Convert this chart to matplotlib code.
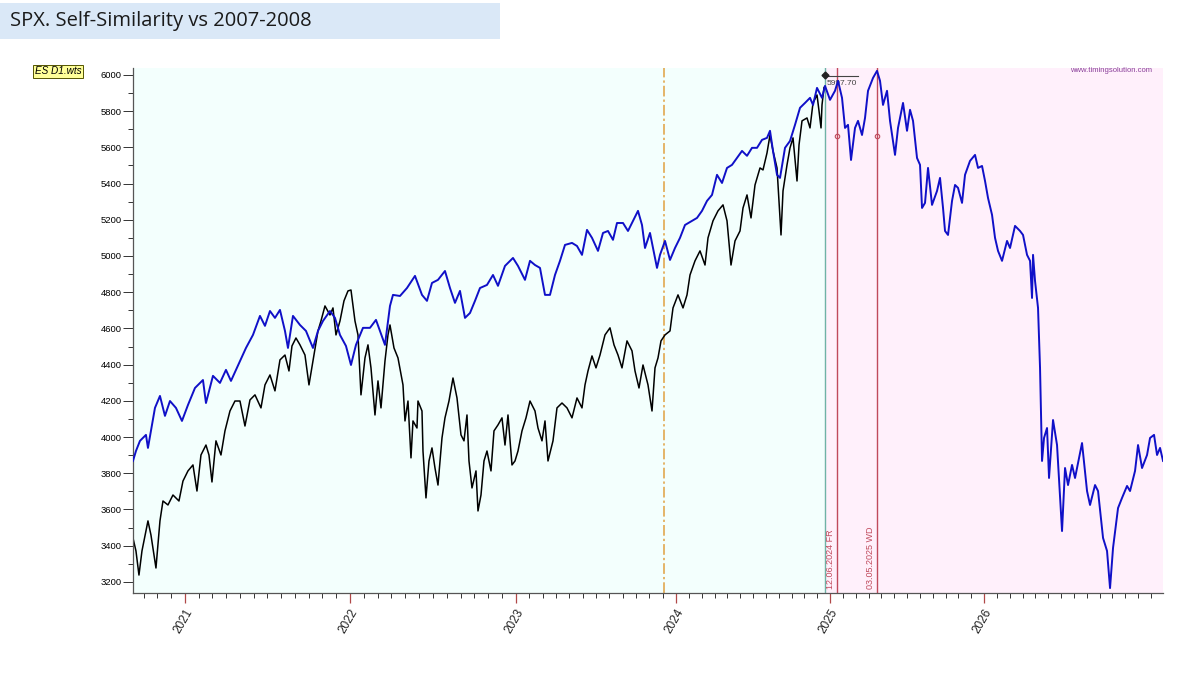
import matplotlib
matplotlib.use("Agg")
import matplotlib.pyplot as plt
import numpy as np
from matplotlib.patches import Rectangle

# x axis is a bar index (0 = first bar on the chart)
year_pos = [52, 217, 383, 543, 697, 851]
year_labels = ["2021", "2022", "2023", "2024", "2025", "2026"]
x_end = 1030

# SPX actual (black)
spx_x = [0, 3, 6, 9, 15, 18, 23, 27, 30, 35, 40, 46, 50, 55, 60, 64, 68, 73, 76, 79,
         83, 88, 92, 97, 102, 107, 112, 117, 122, 128, 132, 137, 142, 147, 152, 156, 159, 163, 167, 172,
         176, 180, 185, 188, 192, 197, 200, 203, 207, 211, 215, 218, 222, 225, 228, 232, 235, 238, 242, 245,
         248, 252, 255, 257, 261, 265, 270, 272, 275, 278, 280, 284, 285, 289, 290, 293, 296, 299, 302, 305,
         309, 312, 316, 320, 324, 328, 331, 334, 336, 339, 343, 345, 348, 351, 354, 358, 361, 365, 369, 372,
         375, 379, 382, 385, 389, 393, 397, 402, 405, 409, 412, 415, 420, 424, 429, 434, 439, 444, 449, 452,
         455, 459, 463, 467, 472, 477, 481, 485, 489, 494, 499, 502, 506, 510, 515, 519, 522, 525, 528, 532,
         537, 540, 545, 550, 554, 557, 562, 567, 572, 575, 580, 585, 590, 594, 598, 602, 607, 610, 614, 618,
         622, 627, 630, 634, 637, 640, 644, 646, 648, 650, 654, 657, 660, 664, 666, 669, 674, 677, 680, 684,
         686, 688, 689, 691]
spx_y = [3443, 3371, 3238, 3371, 3537, 3459, 3277, 3537, 3647, 3625, 3680, 3647, 3757, 3813, 3846, 3702, 3901, 3956, 3901, 3752,
         3979, 3901, 4034, 4144, 4199, 4199, 4061, 4205, 4233, 4161, 4288, 4343, 4255, 4426, 4453, 4365, 4503, 4547, 4509, 4453,
         4288, 4420, 4586, 4641, 4724, 4674, 4713, 4564, 4641, 4752, 4807, 4812, 4641, 4564, 4233, 4437, 4509, 4382, 4122, 4310,
         4161, 4420, 4564, 4619, 4492, 4437, 4288, 4089, 4199, 3885, 4089, 4050, 4199, 4144, 3923, 3664, 3868, 3940, 3829, 3735,
         3995, 4106, 4199, 4326, 4216, 4012, 3979, 4122, 3868, 3719, 3813, 3592, 3680, 3868, 3923, 3813, 4034, 4067, 4106, 3956,
         4122, 3846, 3868, 3923, 4034, 4106, 4199, 4144, 4050, 3979, 4089, 3868, 3979, 4161, 4188, 4161, 4106, 4216, 4161, 4288,
         4365, 4448, 4382, 4453, 4564, 4603, 4509, 4453, 4382, 4531, 4476, 4365, 4271, 4398, 4288, 4144, 4382, 4437, 4531, 4564,
         4586, 4713, 4785, 4713, 4785, 4895, 4973, 5028, 4950, 5100, 5194, 5249, 5282, 5194, 4950, 5083, 5138, 5265, 5337, 5210,
         5392, 5486, 5475, 5569, 5668, 5580, 5486, 5304, 5116, 5359, 5503, 5597, 5652, 5414, 5613, 5746, 5762, 5707, 5845, 5889,
         5801, 5707, 5834, 5930]

# self-similarity projection (blue)
proj_x = [0, 3, 7, 13, 15, 22, 27, 32, 37, 43, 49, 55, 62, 70, 73, 80, 87, 93, 98, 107,
          113, 120, 127, 132, 137, 142, 147, 152, 155, 160, 167, 173, 180, 185, 190, 197, 202, 207, 213, 218,
          223, 230, 237, 243, 247, 252, 257, 260, 267, 274, 282, 289, 294, 299, 305, 312, 317, 322, 327, 332,
          337, 342, 347, 354, 360, 365, 372, 380, 385, 392, 397, 402, 407, 412, 417, 422, 427, 432, 439, 444,
          449, 454, 459, 465, 470, 475, 480, 484, 490, 495, 500, 505, 509, 512, 517, 520, 524, 527, 532, 537,
          542, 547, 552, 559, 564, 569, 574, 579, 584, 589, 594, 599, 604, 609, 614, 619, 624, 629, 634, 637,
          640, 644, 647, 652, 657, 662, 667, 672, 677, 680, 684, 689, 692, 697, 702, 705, 709, 712, 715, 718,
          722, 725, 729, 732, 735, 740, 744, 747, 750, 754, 757, 762, 765, 770, 774, 777, 780, 784, 787, 789,
          792, 795, 799, 804, 807, 810, 812, 815, 819, 822, 825, 829, 832, 837, 842, 845, 849, 852, 855, 859,
          862, 865, 869, 874, 877, 882, 887, 890, 894, 897, 899, 900, 902, 905, 907, 909, 911, 914, 916, 920,
          924, 929, 932, 935, 939, 942, 949, 954, 957, 962, 965, 970, 974, 977, 980, 985, 989, 994, 997, 1002,
          1005, 1009, 1014, 1017, 1021, 1024, 1027, 1030]
proj_y = [3868, 3923, 3979, 4012, 3940, 4161, 4227, 4117, 4199, 4161, 4089, 4177, 4271, 4315, 4188, 4338, 4299, 4371, 4310, 4420,
          4492, 4564, 4669, 4614, 4696, 4658, 4702, 4586, 4492, 4669, 4619, 4586, 4492, 4586, 4641, 4696, 4658, 4564, 4503, 4398,
          4509, 4603, 4603, 4647, 4586, 4509, 4724, 4785, 4779, 4823, 4890, 4785, 4752, 4851, 4868, 4917, 4823, 4741, 4807, 4658,
          4685, 4752, 4823, 4840, 4895, 4835, 4945, 4989, 4945, 4868, 4973, 4950, 4934, 4785, 4785, 4895, 4973, 5061, 5072, 5055,
          5006, 5144, 5100, 5028, 5127, 5138, 5089, 5182, 5182, 5138, 5194, 5249, 5171, 5044, 5127, 5044, 4934, 5006, 5083, 4978,
          5044, 5100, 5171, 5194, 5210, 5249, 5304, 5337, 5448, 5403, 5486, 5503, 5541, 5580, 5553, 5597, 5597, 5641, 5652, 5691,
          5580, 5448, 5431, 5597, 5635, 5724, 5818, 5845, 5873, 5834, 5928, 5873, 5939, 5862, 5912, 5967, 5873, 5707, 5724, 5530,
          5707, 5746, 5668, 5762, 5912, 5983, 6022, 5967, 5834, 5912, 5746, 5558, 5707, 5845, 5691, 5807, 5746, 5541, 5503, 5265,
          5293, 5486, 5282, 5359, 5431, 5265, 5138, 5116, 5304, 5392, 5376, 5293, 5448, 5525, 5558, 5486, 5497, 5414, 5320, 5227,
          5100, 5028, 4973, 5083, 5044, 5166, 5138, 5116, 5006, 4973, 4768, 5006, 4862, 4713, 4382, 3868, 3995, 4050, 3774, 4094,
          3956, 3481, 3829, 3735, 3846, 3774, 3967, 3702, 3625, 3735, 3702, 3443, 3371, 3166, 3388, 3608, 3664, 3730, 3702, 3813,
          3956, 3829, 3901, 3995, 4012, 3901, 3940, 3868]

split_bar = 531        # orange dash-dot
last_bar = 692         # last actual bar (green)
event_bars = [704, 744]
event_labels = ["12.06.2024 FR", "03.05.2025 WD"]
high_value = 5997.70

fig = plt.figure(figsize=(12, 6.73), dpi=100)
fig.patch.set_facecolor("white")

# title banner
fig.patches.append(Rectangle((0, 0.942), 0.417, 0.054, transform=fig.transFigure,
                             facecolor="#dae8f7", edgecolor="none"))
fig.text(0.008, 0.969, "SPX. Self-Similarity vs 2007-2008", fontsize=14.5,
         family="Open Sans", va="center", ha="left", color="#1a1a1a")

fig.text(0.029, 0.894, "ES D1.wts", fontsize=7.2, style="italic", family="Liberation Sans",
         va="center", ha="left",
         bbox=dict(boxstyle="square,pad=0.15", facecolor="#ffff99", edgecolor="#555500", linewidth=0.7))

ax = fig.add_axes([0.1108, 0.1189, 0.8584, 0.7801])
ax.set_xlim(0, x_end)
ax.set_ylim(3139, 6038)

ax.axvspan(0, last_bar, color="#f3fffd", zorder=0)
ax.axvspan(last_bar, x_end, color="#fff0fb", zorder=0)

ax.axvline(split_bar, color="#e0a040", linewidth=1.1, linestyle=(0, (7, 2, 1.5, 2)), zorder=1)
ax.axvline(last_bar, color="#6fb3a6", linewidth=1.0, zorder=1)
for xb, lab in zip(event_bars, event_labels):
    ax.axvline(xb, color="#c04a5c", linewidth=1.0, zorder=1)
    ax.plot(xb, 5660, marker="o", ms=3.2, mfc="none", mec="#c04a5c", mew=0.8, zorder=4)
    ax.text(xb - 2, 3160, lab, rotation=90, ha="right", va="bottom", fontsize=6.5,
            color="#c04a5c", family="Liberation Sans", zorder=4)

ax.plot(spx_x, spx_y, color="black", linewidth=1.1, zorder=2)
ax.plot(proj_x, proj_y, color="#1010c8", linewidth=1.4, zorder=3)

ax.plot([last_bar, last_bar + 33], [5993, 5993], color="#444444", linewidth=0.8, zorder=4)
ax.plot(last_bar, high_value, marker="D", ms=3.5, color="#222222", zorder=5)
ax.text(last_bar + 2, 5972, f"{high_value:.2f}", fontsize=6, color="#444444",
        va="top", ha="left", family="Liberation Sans", zorder=2)

ax.text(1019, 6024, "www.timingsolution.com", fontsize=5.5, color="#8a3f9a",
        ha="right", va="center", family="Liberation Sans")

# axes styling
ax.set_yticks(np.arange(3200, 6001, 200))
ax.set_yticks(np.arange(3300, 6001, 200), minor=True)
ax.tick_params(axis="y", which="major", labelsize=6.8, length=7, width=0.7, color="#333333", pad=1)
ax.tick_params(axis="y", which="minor", length=3.5, width=0.7, color="#333333")
for lab in ax.get_yticklabels():
    lab.set_family("Liberation Sans")

minor_x = []
minor_x += [year_pos[0] - k * (year_pos[1] - year_pos[0]) / 12 for k in range(1, 4)]
for a, b in zip(year_pos[:-1], year_pos[1:]):
    minor_x += list(np.linspace(a, b, 13)[1:-1])
step = (year_pos[-1] - year_pos[-2]) / 12
k = 1
while year_pos[-1] + k * step < x_end:
    minor_x.append(year_pos[-1] + k * step)
    k += 1
ax.set_xticks(year_pos)
ax.set_xticklabels(year_labels)
ax.set_xticks(minor_x, minor=True)
ax.tick_params(axis="x", which="major", length=7, width=0.9, color="#b04848", labelsize=8.5, pad=3)
ax.tick_params(axis="x", which="minor", length=3.5, width=0.7, color="#333333")
for lab in ax.get_xticklabels():
    lab.set_rotation(60)
    lab.set_ha("right")
    lab.set_va("top")
    lab.set_rotation_mode("anchor")
    lab.set_family("Liberation Sans")
    lab.set_color("#222222")

for s in ("top", "right"):
    ax.spines[s].set_visible(False)
for s in ("left", "bottom"):
    ax.spines[s].set_color("#555555")
    ax.spines[s].set_linewidth(0.9)

fig.savefig("out.png", dpi=100, facecolor="white")
